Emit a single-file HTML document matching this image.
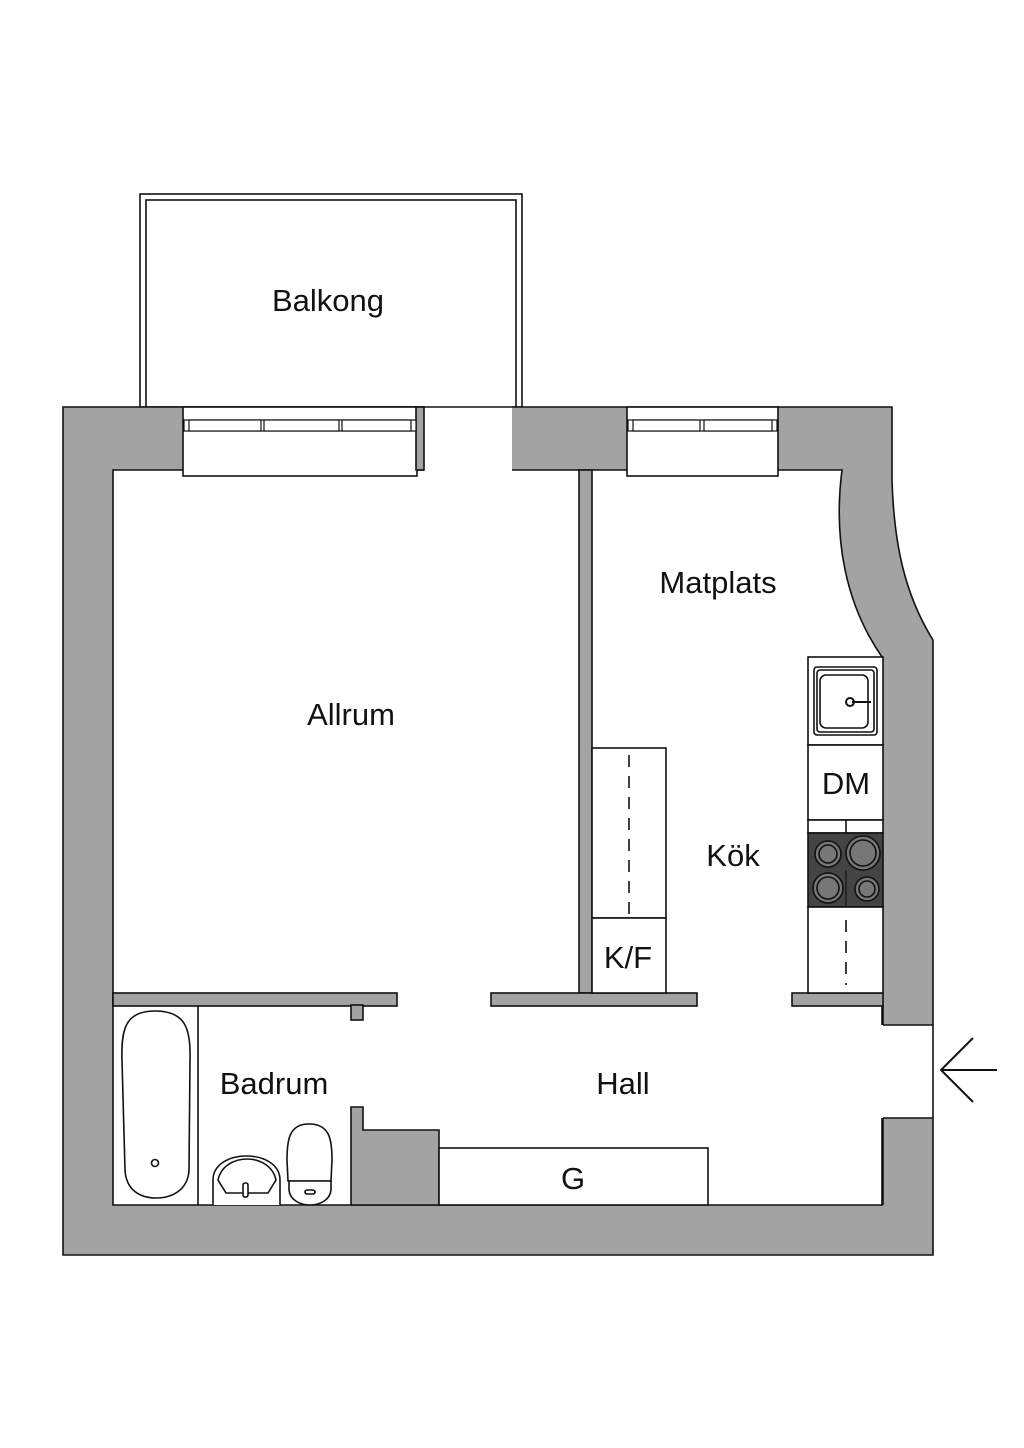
<!DOCTYPE html>
<html><head><meta charset="utf-8"><style>
html,body{margin:0;padding:0;background:#fff}
svg{display:block}
text{font-family:"Liberation Sans",sans-serif;font-size:31px;fill:#111;text-anchor:middle}
</style></head><body>
<svg width="1024" height="1448" viewBox="0 0 1024 1448" xmlns="http://www.w3.org/2000/svg">
<g stroke="#111" stroke-width="1.6">
<rect x="140" y="194" width="382" height="213" fill="#fff"/>
<rect x="146" y="200" width="370" height="207" fill="#fff"/>
<path d="M63,407 H892 V480 C894,545 905,595 933,640 V1255 H63 Z" fill="#a3a3a3"/>
<path d="M113,470 H842 C833,540 846,605 882,657 V1205 H113 Z" fill="#fff"/>
<rect x="183" y="407" width="234" height="69" fill="#fff"/>
<rect x="627" y="407" width="151" height="69" fill="#fff"/>
<rect x="424" y="406" width="88" height="66" fill="#fff" stroke="none"/>
<rect x="416" y="407" width="8" height="63" fill="#a3a3a3"/>
<line x1="424" y1="407" x2="512" y2="407"/>
<rect x="880" y="1025" width="55" height="93" fill="#fff" stroke="none"/>
<line x1="883" y1="1025" x2="933" y2="1025"/><line x1="883" y1="1118" x2="933" y2="1118"/>
<line x1="933" y1="1025" x2="933" y2="1118"/>
<line x1="883" y1="1006" x2="883" y2="1025"/><line x1="883" y1="1118" x2="883" y2="1205"/>
<g fill="#fff" stroke-width="1.2">
<rect x="184" y="420" width="232" height="11"/>
<rect x="189" y="420" width="72" height="11"/><rect x="264" y="420" width="75" height="11"/><rect x="342" y="420" width="69" height="11"/>
<rect x="628" y="420" width="149" height="11"/>
<rect x="633" y="420" width="67" height="11"/><rect x="704" y="420" width="68" height="11"/>
</g>
<g fill="#a3a3a3">
<rect x="579" y="470" width="13" height="523"/>
<rect x="113" y="993" width="284" height="13"/>
<rect x="351" y="1005" width="12" height="15"/>
<rect x="491" y="993" width="206" height="13"/>
<rect x="792" y="993" width="91" height="13"/>
<path d="M351,1107 H363 V1130 H439 V1205 H351 Z"/>
</g>
<rect x="580" y="994" width="11" height="11" fill="#a3a3a3" stroke="none"/>
<line x1="198" y1="1006" x2="198" y2="1205"/>
<path d="M155,1011 C185,1011 191,1028 190,1060 L189,1170 C188,1190 172,1198 156,1198 C140,1198 126,1190 125,1170 L122,1060 C121,1028 126,1011 155,1011 Z" fill="#fff"/>
<circle cx="155" cy="1163" r="3.5" fill="#fff"/>
<path d="M213,1205 V1180 C213,1148 280,1148 280,1180 V1205" fill="#fff"/>
<path d="M218,1180 C224,1152 270,1152 276,1180 L268,1193 H226 Z" fill="#fff"/>
<rect x="243" y="1183" width="5" height="14" rx="2" fill="#fff"/>
<path d="M309,1124 C330,1124 332,1140 332,1160 L331,1181 H288 L287,1160 C287,1140 289,1124 309,1124 Z" fill="#fff"/>
<path d="M289,1181 H331 V1190 C330,1200 320,1205 310,1205 C300,1205 290,1200 289,1190 Z" fill="#fff"/>
<rect x="305" y="1190" width="10" height="4" rx="2" fill="#fff"/>
<rect x="439" y="1148" width="269" height="57" fill="#fff"/>
<rect x="592" y="748" width="74" height="170" fill="#fff"/>
<rect x="592" y="918" width="74" height="75" fill="#fff"/>
<line x1="629" y1="755" x2="629" y2="918" stroke-dasharray="12,9"/>
<rect x="808" y="657" width="75" height="88" fill="#fff"/>
<rect x="814" y="667" width="63" height="68" rx="3" fill="#fff"/>
<rect x="817" y="670" width="57" height="62" rx="3" fill="#fff"/>
<rect x="820" y="675" width="48" height="53" rx="6" fill="#fff"/>
<circle cx="850" cy="702" r="4" fill="#fff" stroke-width="2"/>
<line x1="852" y1="702" x2="871" y2="702" stroke-width="2"/>
<rect x="808" y="745" width="75" height="75" fill="#fff"/>
<rect x="808" y="820" width="75" height="13" fill="#fff"/>
<line x1="846" y1="820" x2="846" y2="833"/>
<rect x="808" y="833" width="75" height="74" fill="#444"/>
<line x1="846" y1="870" x2="846" y2="907" stroke="#222"/>
<g fill="#777" stroke="#111">
<circle cx="828" cy="854" r="13"/><circle cx="828" cy="854" r="9"/>
<circle cx="863" cy="853" r="17"/><circle cx="863" cy="853" r="13"/>
<circle cx="828" cy="888" r="15"/><circle cx="828" cy="888" r="11"/>
<circle cx="867" cy="889" r="12"/><circle cx="867" cy="889" r="8"/>
</g>
<rect x="808" y="907" width="75" height="86" fill="#fff"/>
<line x1="846" y1="920" x2="846" y2="985" stroke-dasharray="12,9"/>
<g stroke-width="2" fill="none">
<line x1="941" y1="1070" x2="997" y2="1070"/>
<polyline points="973,1038 941,1070 973,1102"/>
</g>
</g>
<text x="328" y="311">Balkong</text>
<text x="351" y="725">Allrum</text>
<text x="718" y="593">Matplats</text>
<text x="733" y="866">Kök</text>
<text x="846" y="794">DM</text>
<text x="628" y="968">K/F</text>
<text x="274" y="1094">Badrum</text>
<text x="623" y="1094">Hall</text>
<text x="573" y="1189">G</text>
</svg>
</body></html>
